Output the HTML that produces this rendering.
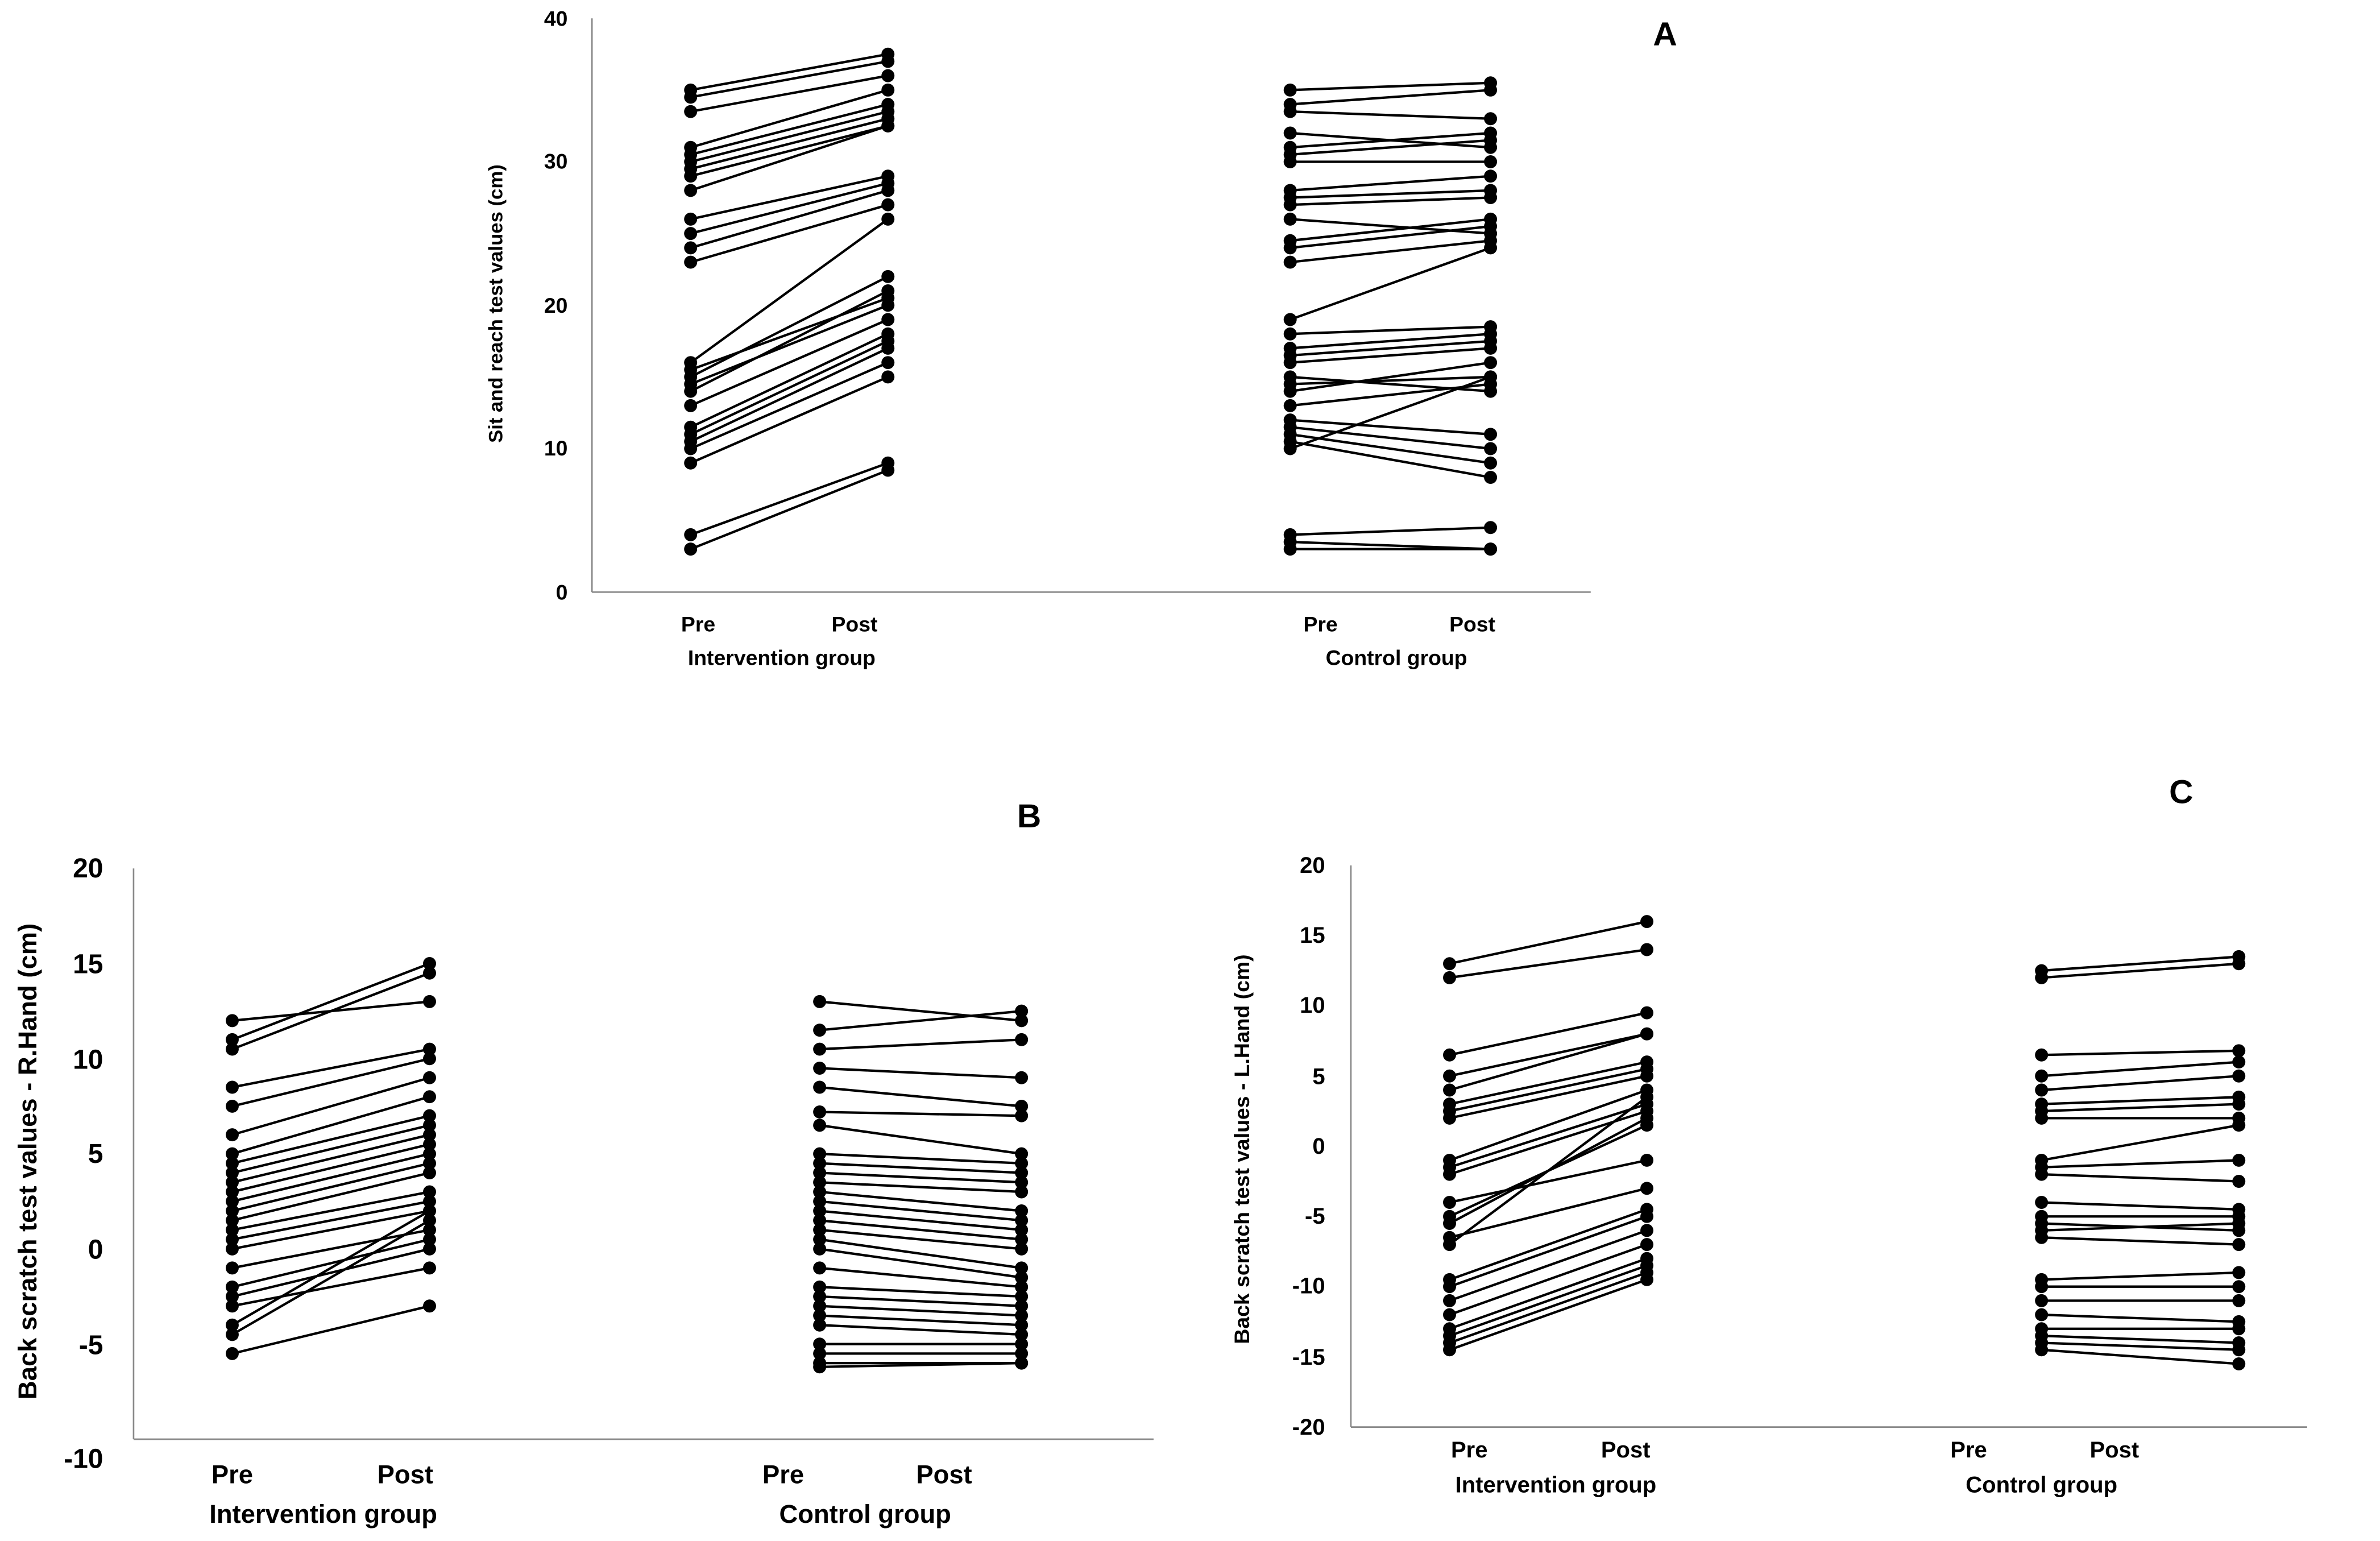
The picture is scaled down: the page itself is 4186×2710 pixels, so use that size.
<!DOCTYPE html>
<html><head><meta charset="utf-8"><style>
html,body{margin:0;padding:0;background:#fff;}
svg{display:block;font-family:"Liberation Sans",Arial,sans-serif;font-weight:bold;}
</style></head><body>
<svg id="fig" width="4186" height="2710" viewBox="0 0 1568 1015" xmlns="http://www.w3.org/2000/svg">
<rect width="1568" height="1015" fill="#fff"/>
<!-- Panel A -->
<g>
<line x1="390" y1="12" x2="390" y2="390" stroke="#888" stroke-width="1"/>
<line x1="390" y1="390" x2="1048" y2="390" stroke="#888" stroke-width="1"/>
<g font-size="14" text-anchor="end">
<text x="374" y="395">0</text><text x="374" y="300">10</text><text x="374" y="206">20</text><text x="374" y="111">30</text><text x="374" y="17">40</text></g>
<text font-size="13" text-anchor="middle" transform="translate(331,200) rotate(-90)">Sit and reach test values (cm)</text>
<g font-size="14" text-anchor="middle">
<text x="460" y="416">Pre</text>
<text x="563" y="416">Post</text>
<text x="515" y="438">Intervention group</text>
<text x="870" y="416">Pre</text>
<text x="970" y="416">Post</text>
<text x="920" y="438">Control group</text></g>
<text x="1097" y="30" font-size="22" text-anchor="middle">A</text>
<g id="ga"></g>
</g>
<!-- Panel B -->
<g>
<line x1="88" y1="572" x2="88" y2="948" stroke="#888" stroke-width="1"/>
<line x1="88" y1="948" x2="760" y2="948" stroke="#888" stroke-width="1"/>
<g font-size="18" text-anchor="end">
<text x="68" y="578">20</text><text x="68" y="641">15</text><text x="68" y="704">10</text><text x="68" y="766">5</text><text x="68" y="829">0</text><text x="68" y="892">-5</text><text x="68" y="967">-10</text></g>
<text font-size="17" text-anchor="middle" transform="translate(24,765) rotate(-90)">Back scratch test values - R.Hand (cm)</text>
<g font-size="17" text-anchor="middle">
<text x="153" y="977">Pre</text>
<text x="267" y="977">Post</text>
<text x="213" y="1003">Intervention group</text>
<text x="516" y="977">Pre</text>
<text x="622" y="977">Post</text>
<text x="570" y="1003">Control group</text></g>
<text x="678" y="545" font-size="22" text-anchor="middle">B</text>
<g id="gb"></g>
</g>
<!-- Panel C -->
<g>
<line x1="890" y1="570" x2="890" y2="940" stroke="#888" stroke-width="1"/>
<line x1="890" y1="940" x2="1520" y2="940" stroke="#888" stroke-width="1"/>
<g font-size="15" text-anchor="end">
<text x="873" y="575">20</text><text x="873" y="621">15</text><text x="873" y="667">10</text><text x="873" y="714">5</text><text x="873" y="760">0</text><text x="873" y="806">-5</text><text x="873" y="852">-10</text><text x="873" y="899">-15</text><text x="873" y="945">-20</text></g>
<text font-size="14" text-anchor="middle" transform="translate(823,757) rotate(-90)">Back scratch test values - L.Hand (cm)</text>
<g font-size="15" text-anchor="middle">
<text x="968" y="960">Pre</text>
<text x="1071" y="960">Post</text>
<text x="1025" y="983">Intervention group</text>
<text x="1297" y="960">Pre</text>
<text x="1393" y="960">Post</text>
<text x="1345" y="983">Control group</text></g>
<text x="1437" y="529" font-size="22" text-anchor="middle">C</text>
<g id="gc"></g>
</g>
</svg>
<script>
const aIntPre  = [35,34.5,33.5,31,30.5,30,29.5,29,28,26,25,24,23,16,15.5,15,14.5,14,13,11.5,11,10.5,10,9,4,3];
const aIntPost = [37.5,37,36,35,34,33.5,33,32.5,32.5,29,28.5,28,27,26,20.5,22,20,21,19,18,17.5,17,16,15,9,8.5];
const aCtlPre  = [35,34,33.5,32,31,30.5,30,28,27.5,27,26,24.5,24,23,19,18,17,16.5,16,15,14.5,14,13,12,11.5,11,10.5,10,4,3.5,3];
const aCtlPost = [35.5,35,33,31,32,31.5,30,29,28,27.5,25,26,25.5,24.5,24,18.5,18,17.5,17,14,15,16,14.5,11,10,9,8,15,4.5,3,3];
const bIntPre  = [12,11,10.5,8.5,7.5,6,5,4.5,4,3.5,3,2.5,2,1.5,1,0.5,0,-1,-2,-2.5,-3,-4,-4.5,-5.5];
const bIntPost = [13,15,14.5,10.5,10,9,8,7,6.5,6,5.5,5,4.5,4,3,2.5,2,1,0.5,0,-1,2,1.5,-3];
const bCtlPre  = [13,11.5,10.5,9.5,8.5,7.2,6.5,5,4.5,4,3.5,3,2.5,2,1.5,1,0.5,0,-1,-2,-2.5,-3,-3.5,-4,-5,-5.5,-6,-6.2];
const bCtlPost = [12,12.5,11,9,7.5,7,5,4.5,4,3.5,3,2,1.5,1,0.5,0,-1,-1.5,-2,-2.5,-3,-3.5,-4,-4.5,-5,-5.5,-6,-6];
const cIntPre  = [13,12,6.5,5,4,3,2.5,2,-1,-1.5,-2,-4,-5,-5.5,-6.5,-7,-9.5,-10,-11,-12,-13,-13.5,-14,-14.5];
const cIntPost = [16,14,9.5,8,8,6,5.5,5,4,3,2.5,-1,1.5,2,-3,3.5,-4.5,-5,-6,-7,-8,-8.5,-9,-9.5];
const cCtlPre  = [12.5,12,6.5,5,4,3,2.5,2,-1,-1.5,-2,-4,-5,-5.5,-6,-6.5,-9.5,-10,-11,-12,-13,-13.5,-14,-14.5];
const cCtlPost = [13.5,13,6.8,6,5,3.5,3,2,1.5,-1,-2.5,-4.5,-5,-6,-5.5,-7,-9,-10,-11,-12.5,-13,-14,-14.5,-15.5];

const NS = "http://www.w3.org/2000/svg";
function yScale(v, v0, y0, v1, y1){ return y0 + (v - v0) * (y1 - y0) / (v1 - v0); }
function drawPairs(g, pre, post, xPre, xPost, ys, prefix){
  for (let i = 0; i < pre.length; i++){
    const ya = ys(pre[i]), yb = ys(post[i]);
    const ln = document.createElementNS(NS, "line");
    
    
    ln.setAttribute("x1", xPre); ln.setAttribute("y1", ya);
    ln.setAttribute("x2", xPost); ln.setAttribute("y2", yb);
    ln.setAttribute("stroke", "#000"); ln.setAttribute("stroke-width", "1.6");
    g.appendChild(ln);
    [[xPre, ya], [xPost, yb]].forEach(p => {
      const c = document.createElementNS(NS, "circle");
      
      
      c.setAttribute("cx", p[0]); c.setAttribute("cy", p[1]); c.setAttribute("r", "4.3");
      c.setAttribute("fill", "#000");
      g.appendChild(c);
    });
  }
}
const ysA = v => yScale(v, 0, 390, 40, 12);
const ysB = v => yScale(v, -10, 948, 20, 572);
const ysC = v => yScale(v, -20, 940, 20, 570);
drawPairs(document.getElementById("ga"), aIntPre, aIntPost, 455, 585, ysA, "a-intervention");
drawPairs(document.getElementById("ga"), aCtlPre, aCtlPost, 850, 982, ysA, "a-control");
drawPairs(document.getElementById("gb"), bIntPre, bIntPost, 153, 283, ysB, "b-intervention");
drawPairs(document.getElementById("gb"), bCtlPre, bCtlPost, 540, 673, ysB, "b-control");
drawPairs(document.getElementById("gc"), cIntPre, cIntPost, 955, 1085, ysC, "c-intervention");
drawPairs(document.getElementById("gc"), cCtlPre, cCtlPost, 1345, 1475, ysC, "c-control");
</script>
</body></html>
